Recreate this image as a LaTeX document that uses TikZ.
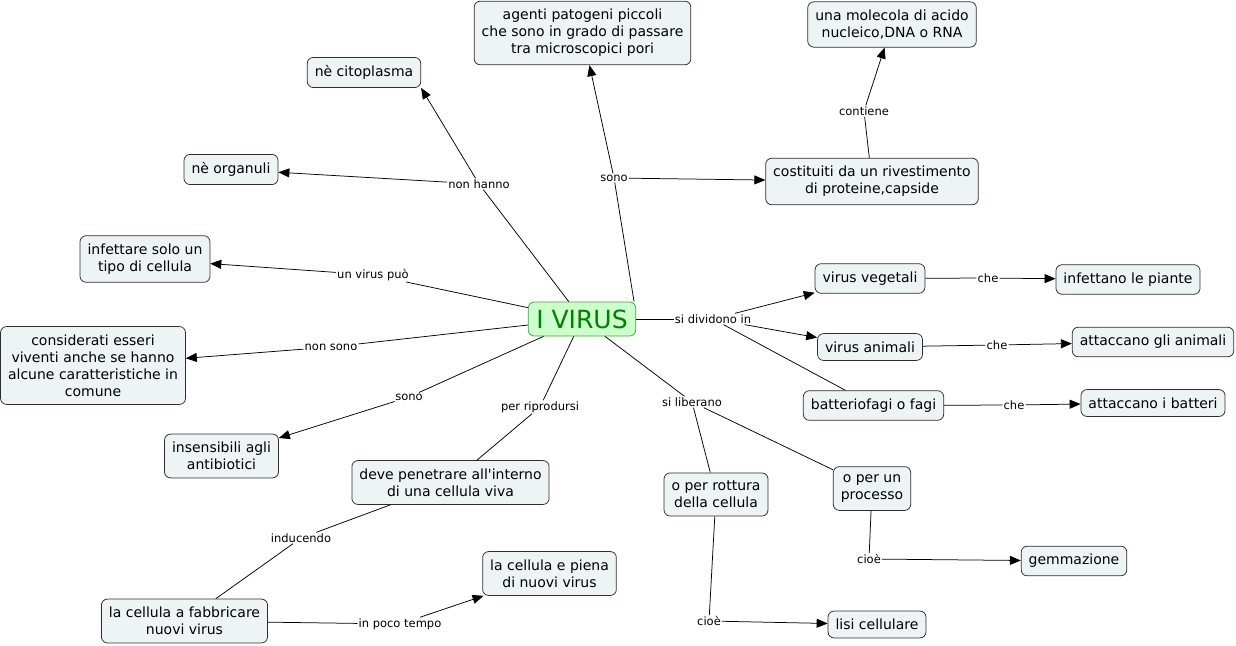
\documentclass[tikz,border=0pt]{standalone}
\usepackage{fontspec}
\setmainfont{DejaVu Sans}
\definecolor{boxfill1}{RGB}{238,243,245}
\definecolor{boxline1}{RGB}{45,45,45}
\definecolor{green1}{RGB}{0,128,0}
\definecolor{green2}{RGB}{204,255,204}
\definecolor{green3}{RGB}{70,160,70}
\usetikzlibrary{arrows.meta, positioning}
\tikzset{
  concept/.style={draw=boxline1, fill=boxfill1, rounded corners=6pt, align=center,
    inner xsep=7.5pt, inner ysep=8pt, line width=0.75pt, font=\fontsize{14}{17}\selectfont},
  topic/.style={draw=green3, fill=green2, text=green1, rounded corners=6pt,
    inner xsep=8pt, inner ysep=8pt, text height=18pt, text depth=0pt,
    line width=0.75pt, font=\fontsize{25}{28}\selectfont},
  phrase/.style={fill=white, inner sep=1pt, font=\fontsize{11.5}{13}\selectfont},
  link/.style={line width=0.75pt},
  linkarrow/.style={link, -{Triangle[length=11pt, width=9pt]}},
}

\begin{document}
\begin{tikzpicture}[x=1pt, y=-1pt]
  \useasboundingbox (0,0) rectangle (1236,645);

  % concepts
  \node[topic] (virus) at (582,319) {I VIRUS};
  \node[concept] (agenti) at (582.5,33) {agenti patogeni piccoli\\che sono in grado di passare\\tra microscopici pori};
  \node[concept] (molecola) at (892,24.5) {una molecola di acido\\nucleico,DNA o RNA};
  \node[concept] (citoplasma) at (364,72.5) {nè citoplasma};
  \node[concept] (organuli) at (231,169.5) {nè organuli};
  \node[concept] (costituiti) at (872,181.5) {costituiti da un rivestimento\\di proteine,capside};
  \node[concept] (infettare) at (145,259) {infettare solo un\\tipo di cellula};
  \node[concept] (vegetali) at (870,278.5) {virus vegetali};
  \node[concept] (piante) at (1128,279.5) {infettano le piante};
  \node[concept] (viventi) at (93,365.5) {considerati esseri\\viventi anche se hanno\\alcune caratteristiche in\\comune};
  \node[concept] (animali) at (870,347) {virus animali};
  \node[concept] (attanimali) at (1153,342) {attaccano gli animali};
  \node[concept] (fagi) at (873.5,405.5) {batteriofagi o fagi};
  \node[concept] (batteri) at (1153,403) {attaccano i batteri};
  \node[concept] (insensibili) at (221.5,456) {insensibili agli\\antibiotici};
  \node[concept] (penetrare) at (450.5,482.5) {deve penetrare all\textquotesingle interno\\di una cellula viva};
  \node[concept] (rottura) at (716,494.5) {o per rottura\\della cellula};
  \node[concept] (processo) at (872,488.5) {o per un\\processo};
  \node[concept] (piena) at (549.5,573.5) {la cellula e piena\\di nuovi virus};
  \node[concept] (gemmazione) at (1074,561) {gemmazione};
  \node[concept] (fabbricare) at (184.5,621) {la cellula a fabbricare\\nuovi virus};
  \node[concept] (lisi) at (877,624.5) {lisi cellulare};

  % linking phrases
  \node[phrase] (nonhanno) at (479,184) {non hanno};
  \node[phrase] (sonoA) at (614,178) {sono};
  \node[phrase] (contiene) at (864,111) {contiene};
  \node[phrase] (puo) at (373,275) {un virus può};
  \node[phrase] (dividono) at (713,319) {si dividono in};
  \node[phrase] (cheA) at (988,278) {che};
  \node[phrase] (cheB) at (997,345) {che};
  \node[phrase] (cheC) at (1014,405) {che};
  \node[phrase] (nonsono) at (331,347) {non sono};
  \node[phrase] (sonoB) at (409,397) {sono};
  \node[phrase] (riprodursi) at (540,407) {per riprodursi};
  \node[phrase] (liberano) at (692,402) {si liberano};
  \node[phrase] (inducendo) at (301,538) {inducendo};
  \node[phrase] (tempo) at (400,624) {in poco tempo};
  \node[phrase] (cioeA) at (869,559) {cioè};
  \node[phrase] (cioeB) at (709,621) {cioè};

  % connectors
  \draw[link] (virus) -- (nonhanno);
  \draw[linkarrow] (nonhanno) -- (citoplasma.south east);
  \draw[linkarrow] (nonhanno) -- (organuli);
  \draw[link] ([xshift=-2pt]virus.north east) -- (sonoA);
  \draw[linkarrow] (sonoA) -- (agenti);
  \draw[linkarrow] (sonoA) -- (costituiti);
  \draw[link] (costituiti) -- (contiene);
  \draw[linkarrow] (contiene) -- (molecola);
  \draw[link] (virus) -- (puo);
  \draw[linkarrow] (puo) -- (infettare);
  \draw[link] (virus) -- (dividono);
  \draw[linkarrow] (dividono) -- (vegetali);
  \draw[linkarrow] (dividono) -- (animali);
  \draw[link] (dividono) -- (fagi);
  \draw[link] (vegetali) -- (cheA);
  \draw[linkarrow] (cheA) -- (piante);
  \draw[link] (animali) -- (cheB);
  \draw[linkarrow] (cheB) -- (attanimali);
  \draw[link] (fagi) -- (cheC);
  \draw[linkarrow] (cheC) -- (batteri);
  \draw[link] (virus) -- (nonsono);
  \draw[linkarrow] (nonsono) -- (viventi);
  \draw[link] (virus) -- (sonoB);
  \draw[linkarrow] (sonoB) -- (insensibili);
  \draw[link] (virus) -- (riprodursi);
  \draw[link] (riprodursi) -- (penetrare);
  \draw[link] (penetrare) -- (inducendo);
  \draw[link] (inducendo) -- (fabbricare);
  \draw[link] (fabbricare) -- (tempo);
  \draw[linkarrow] (tempo) -- (piena);
  \draw[link] (virus) -- (liberano);
  \draw[link] (liberano) -- (rottura);
  \draw[link] (liberano) -- (processo);
  \draw[link] (rottura) -- (cioeB);
  \draw[linkarrow] (cioeB) -- (lisi);
  \draw[link] (processo) -- (cioeA);
  \draw[linkarrow] (cioeA) -- (gemmazione);
\end{tikzpicture}
\end{document}
